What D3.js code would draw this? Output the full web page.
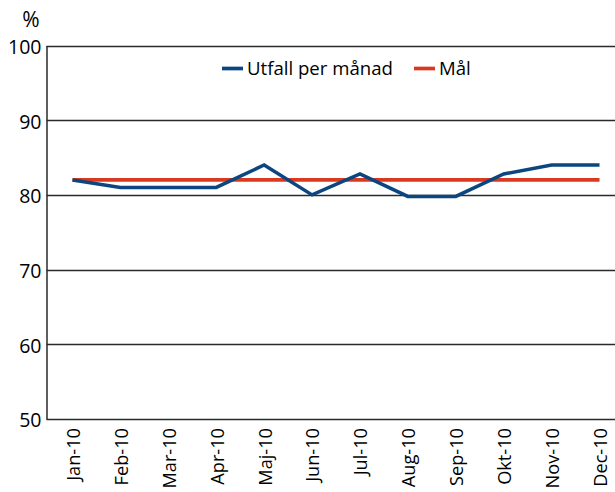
<!DOCTYPE html>
<html>
<head>
<meta charset="utf-8">
<script src="https://cdn.jsdelivr.net/npm/d3@7"></script>
<style>
  html, body { margin: 0; padding: 0; background: #fff; }
  svg { display: block; font-family: "Open Sans", "Noto Sans", sans-serif; }
</style>
</head>
<body>
<svg id="chart" width="615" height="492"></svg>
<script>
// Monthly outcome versus target, 2010
const months = ["Jan-10", "Feb-10", "Mar-10", "Apr-10", "Maj-10", "Jun-10",
                "Jul-10", "Aug-10", "Sep-10", "Okt-10", "Nov-10", "Dec-10"];
const utfall = [82, 81, 81, 81, 84, 80, 82.8, 79.8, 79.8, 82.8, 84, 84];
const mal = [82, 82, 82, 82, 82, 82, 82, 82, 82, 82, 82, 82];
const yTicks = [50, 60, 70, 80, 90, 100];
const seriesNames = ["Utfall per månad", "Mål"];
const seriesColors = ["#0b4680", "#d9391f"];

const svg = d3.select("#chart");
const plotLeft = 46.5, plotRight = 615, plotTop = 45.5, plotBottom = 419;

const x = d3.scalePoint().domain(months).range([72.5, 599.5]);
const y = d3.scaleLinear().domain([50, 100]).range([plotBottom, plotTop]);

// horizontal gridlines
svg.append("g")
  .selectAll("line")
  .data(yTicks)
  .join("line")
  .attr("x1", plotLeft).attr("x2", plotRight)
  .attr("y1", d => Math.round(y(d)) + 0.5)
  .attr("y2", d => Math.round(y(d)) + 0.5)
  .attr("stroke", "#2a2a2a")
  .attr("stroke-width", 1.3);

// y axis
const yAxis = svg.append("g")
  .attr("transform", `translate(${plotLeft},0)`)
  .call(d3.axisLeft(y).tickValues(yTicks).tickSize(0).tickPadding(5));
yAxis.select(".domain").attr("stroke", "#2a2a2a").attr("stroke-width", 1.5);
yAxis.selectAll("text")
  .attr("font-size", 19.5)
  .attr("fill", "#000")
  .attr("dy", "0.4em")
  .attr("font-family", "Open Sans, sans-serif");

svg.append("text")
  .attr("x", 31).attr("y", 27)
  .attr("text-anchor", "middle")
  .attr("font-size", 21)
  .attr("fill", "#000")
  .text("%");

// x axis labels, rotated
const xAxis = svg.append("g")
  .attr("transform", `translate(0,${plotBottom})`)
  .call(d3.axisBottom(x).tickSize(0).tickPadding(0));
xAxis.select(".domain").remove();
xAxis.selectAll("text")
  .attr("font-size", 18.2)
  .attr("fill", "#000")
  .attr("font-family", "Open Sans, sans-serif")
  .attr("text-anchor", "end")
  .attr("transform", "rotate(-90)")
  .attr("x", -9)
  .attr("y", 0.5)
  .attr("dy", "0.35em");

// series lines
const line = d3.line().x((d, i) => x(months[i])).y(d => y(d));
svg.append("path")
  .datum(mal)
  .attr("d", line)
  .attr("fill", "none")
  .attr("stroke", seriesColors[1])
  .attr("stroke-width", 3.7);
svg.append("path")
  .datum(utfall)
  .attr("d", line)
  .attr("fill", "none")
  .attr("stroke", seriesColors[0])
  .attr("stroke-width", 3.5)
  .attr("stroke-linejoin", "miter");

// legend
const legendItems = [
  { name: seriesNames[0], color: seriesColors[0], x: 222 },
  { name: seriesNames[1], color: seriesColors[1], x: 414 }
];
const lg = svg.append("g").selectAll("g").data(legendItems).join("g")
  .attr("transform", d => `translate(${d.x},68.5)`);
lg.append("line")
  .attr("x1", 0).attr("x2", 21)
  .attr("stroke", d => d.color)
  .attr("stroke-width", 3.7);
lg.append("text")
  .attr("x", 25).attr("y", 0)
  .attr("dy", "0.35em")
  .attr("font-size", 18.6)
  .attr("fill", "#000")
  .text(d => d.name);
</script>
</body>
</html>
